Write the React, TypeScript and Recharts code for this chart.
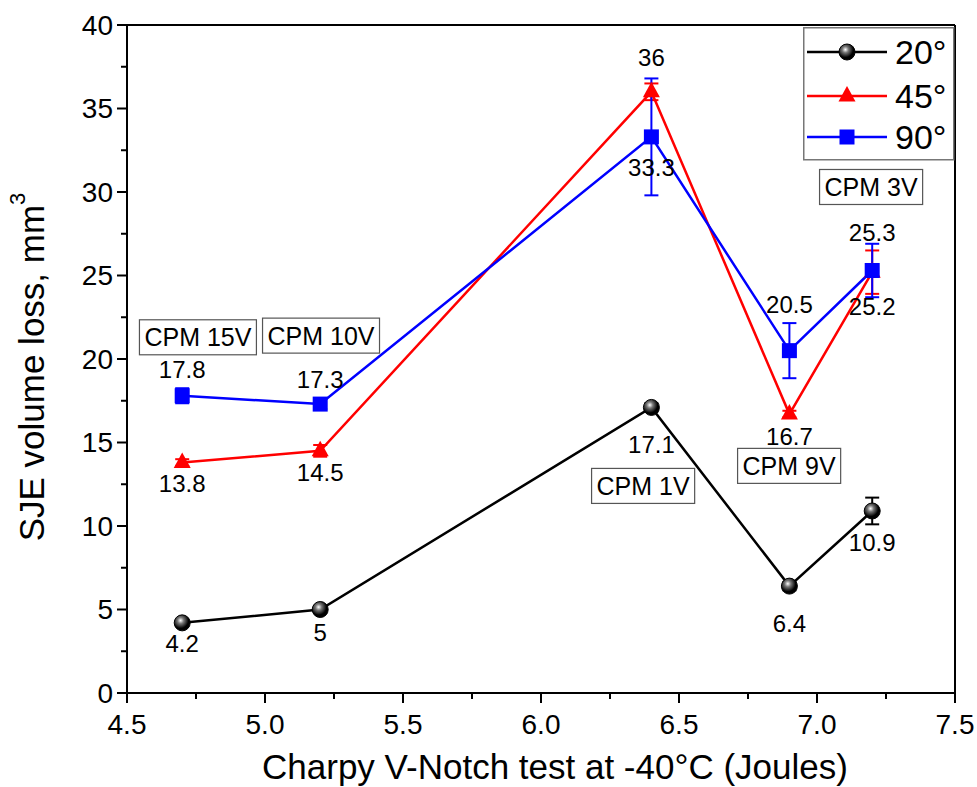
import React from 'react';
import {
  LineChart,
  Line,
  XAxis,
  YAxis,
  ErrorBar,
  LabelList,
  Legend,
  ReferenceLine,
  ReferenceDot,
  Label,
} from 'recharts';

const charpy = [4.7, 5.2, 6.4, 6.9, 7.2];
const loss20 = [4.2, 5, 17.1, 6.4, 10.9];
const loss45 = [13.8, 14.5, 36, 16.7, 25.2];
const loss90 = [17.8, 17.3, 33.3, 20.5, 25.3];
const err20 = [0.2, 0.2, 0.25, 0.25, 0.8];
const err45 = [0.2, 0.35, 0.5, 0.2, 1.3];
const err90 = [0.45, 0.3, 3.5, 1.65, 1.6];

const grades = ['CPM 15V', 'CPM 10V', 'CPM 1V', 'CPM 9V', 'CPM 3V'];
const gradeX = [4.757, 5.203, 6.37, 6.899, 7.196];
const gradeY = [21.3, 21.4, 12.4, 13.6, 30.3];

const seriesNames = ['20°', '45°', '90°'];
const xTicks = [4.5, 4.75, 5, 5.25, 5.5, 5.75, 6, 6.25, 6.5, 6.75, 7, 7.25, 7.5];
const yTicks = [0, 2.5, 5, 7.5, 10, 12.5, 15, 17.5, 20, 22.5, 25, 27.5, 30, 32.5, 35, 37.5, 40];

const data = charpy.map((x, i) => ({
  x,
  s20: loss20[i],
  e20: err20[i],
  s45: loss45[i],
  e45: err45[i],
  s90: loss90[i],
  e90: err90[i],
}));

const FONT = "Arial, 'Liberation Sans', sans-serif";

// vertical offset of each value label from its point (px)
const labelDy20 = [21, 23, 37, 37, 32];
const labelDy45 = [21, 22, -34, 22, 34];
const labelDy90 = [-26, -24, 31, -46, -38];

const charW: Record<string, number> = { C: 0.722, P: 0.667, M: 0.833, ' ': 0.278, V: 0.667 };
const textWidth = (s: string, size: number) =>
  s.split('').reduce((w, c) => w + (charW[c] ?? 0.556), 0) * size;

const XTick = ({ x, y, payload }: any) => {
  const v = payload.value;
  const major = Math.abs(v * 2 - Math.round(v * 2)) < 1e-6;
  return (
    <g>
      <line x1={x} x2={x} y1={y} y2={y + (major ? 10 : 6)} stroke="#000" strokeWidth={2} />
      {major && (
        <text x={x} y={y + 41} textAnchor="middle" fontSize={28} fontFamily={FONT} fill="#000">
          {v.toFixed(1)}
        </text>
      )}
    </g>
  );
};

const YTick = ({ x, y, payload }: any) => {
  const v = payload.value;
  const major = v % 5 === 0;
  return (
    <g>
      <line x1={x - (major ? 10 : 6)} x2={x} y1={y} y2={y} stroke="#000" strokeWidth={2} />
      {major && (
        <text x={x - 14} y={y} dy="0.35em" textAnchor="end" fontSize={28} fontFamily={FONT} fill="#000">
          {v}
        </text>
      )}
    </g>
  );
};

const SphereDot = ({ cx, cy }: any) => (
  <circle cx={cx} cy={cy} r={8} fill="url(#sphere)" stroke="#000" strokeWidth={1} />
);

const TriangleDot = ({ cx, cy }: any) => (
  <polygon points={`${cx},${cy - 10} ${cx - 8.5},${cy + 5.5} ${cx + 8.5},${cy + 5.5}`} fill="#ff0000" />
);

const SquareDot = ({ cx, cy }: any) => (
  <rect x={cx - 7.5} y={cy - 7.5} width={15} height={15} fill="#0000ff" />
);

const makeLabel = (offsets: number[]) => (props: any) => {
  const { x, y, value, index } = props;
  return (
    <text
      x={x}
      y={y + offsets[index]}
      dy="0.35em"
      textAnchor="middle"
      fontSize={24}
      fontFamily={FONT}
      fill="#000"
    >
      {value}
    </text>
  );
};

const GradeBox = (text: string) => (props: any) => {
  const { cx, cy } = props;
  const w = textWidth(text, 25) + 10;
  const h = 35;
  return (
    <g>
      <rect x={cx - w / 2} y={cy - h / 2} width={w} height={h} fill="#fff" stroke="#555" strokeWidth={1.2} />
      <text x={cx} y={cy} dy="0.36em" textAnchor="middle" fontSize={25} fontFamily={FONT} fill="#000">
        {text}
      </text>
    </g>
  );
};

const LegendBox = () => {
  const rows = [
    { name: seriesNames[0], color: '#000', y: 25 },
    { name: seriesNames[1], color: '#ff0000', y: 69 },
    { name: seriesNames[2], color: '#0000ff', y: 110 },
  ];
  return (
    <svg width={152} height={134}>
      <rect x={0.75} y={0.75} width={150} height={132} fill="#fff" stroke="#777" strokeWidth={1.5} />
      {rows.map((r, i) => (
        <g key={r.name}>
          <line x1={4} x2={84} y1={r.y} y2={r.y} stroke={r.color} strokeWidth={2.5} />
          {i === 0 && <SphereDot cx={44} cy={r.y} />}
          {i === 1 && <TriangleDot cx={44} cy={r.y} />}
          {i === 2 && <SquareDot cx={44} cy={r.y} />}
          <text x={92} y={r.y} dy="0.36em" fontSize={34} fontFamily={FONT} fill="#000">
            {r.name}
          </text>
        </g>
      ))}
    </svg>
  );
};

export default function App() {
  return (
    <div style={{ position: 'absolute', left: 0, top: 0, width: 977, height: 787, background: '#fff' }}>
      <LineChart width={977} height={787} data={data} margin={{ top: 25, right: 22, bottom: 0, left: 0 }}>
        <defs>
          <radialGradient id="sphere" cx="40%" cy="35%" r="65%">
            <stop offset="0%" stopColor="#ffffff" />
            <stop offset="30%" stopColor="#777777" />
            <stop offset="75%" stopColor="#000000" />
          </radialGradient>
        </defs>
        <XAxis
          type="number"
          dataKey="x"
          domain={[4.5, 7.5]}
          ticks={xTicks}
          interval={0}
          tick={<XTick />}
          tickLine={false}
          tickSize={0}
          tickMargin={0}
          axisLine={{ stroke: '#000', strokeWidth: 2 }}
          height={94}
        >
          <Label
            content={({ viewBox }: any) => (
              <text
                x={viewBox.x + viewBox.width / 2 + 14}
                y={viewBox.y + 86}
                textAnchor="middle"
                fontSize={35}
                fontFamily={FONT}
                fill="#000"
              >
                Charpy V-Notch test at -40°C (Joules)
              </text>
            )}
          />
        </XAxis>
        <YAxis
          type="number"
          domain={[0, 40]}
          ticks={yTicks}
          interval={0}
          tick={<YTick />}
          tickLine={false}
          tickSize={0}
          tickMargin={0}
          axisLine={{ stroke: '#000', strokeWidth: 2 }}
          width={127}
        >
          <Label
            content={({ viewBox }: any) => {
              const cy = viewBox.y + viewBox.height / 2 + 8;
              return (
                <text
                  x={31}
                  y={cy}
                  transform={`rotate(-90 31 ${cy})`}
                  textAnchor="middle"
                  dominantBaseline="central"
                  fontSize={35}
                  fontFamily={FONT}
                  fill="#000"
                >
                  SJE volume loss, mm
                  <tspan dy={-14} fontSize={22}>
                    3
                  </tspan>
                </text>
              );
            }}
          />
        </YAxis>
        <ReferenceLine y={40} stroke="#000" strokeWidth={2} />
        <ReferenceLine x={7.5} stroke="#000" strokeWidth={2} />
        {grades.map((g, i) => (
          <ReferenceDot key={g} x={gradeX[i]} y={gradeY[i]} r={0} shape={GradeBox(g)} />
        ))}
        <Line
          dataKey="s20"
          name={seriesNames[0]}
          stroke="#000"
          strokeWidth={2.5}
          dot={<SphereDot />}
          activeDot={false}
          isAnimationActive={false}
        >
          <ErrorBar dataKey="e20" width={7} stroke="#000" strokeWidth={2} direction="y" />
          <LabelList dataKey="s20" content={makeLabel(labelDy20)} />
        </Line>
        <Line
          dataKey="s45"
          name={seriesNames[1]}
          stroke="#ff0000"
          strokeWidth={2.5}
          dot={<TriangleDot />}
          activeDot={false}
          isAnimationActive={false}
        >
          <ErrorBar dataKey="e45" width={7} stroke="#ff0000" strokeWidth={2} direction="y" />
          <LabelList dataKey="s45" content={makeLabel(labelDy45)} />
        </Line>
        <Line
          dataKey="s90"
          name={seriesNames[2]}
          stroke="#0000ff"
          strokeWidth={2.5}
          dot={<SquareDot />}
          activeDot={false}
          isAnimationActive={false}
        >
          <ErrorBar dataKey="e90" width={7} stroke="#0000ff" strokeWidth={2} direction="y" />
          <LabelList dataKey="s90" content={makeLabel(labelDy90)} />
        </Line>
        <Legend
          layout="vertical"
          align="center"
          verticalAlign="middle"
          content={<LegendBox />}
          wrapperStyle={{ left: 803, top: 27, width: 152, height: 134 }}
        />
      </LineChart>
    </div>
  );
}
